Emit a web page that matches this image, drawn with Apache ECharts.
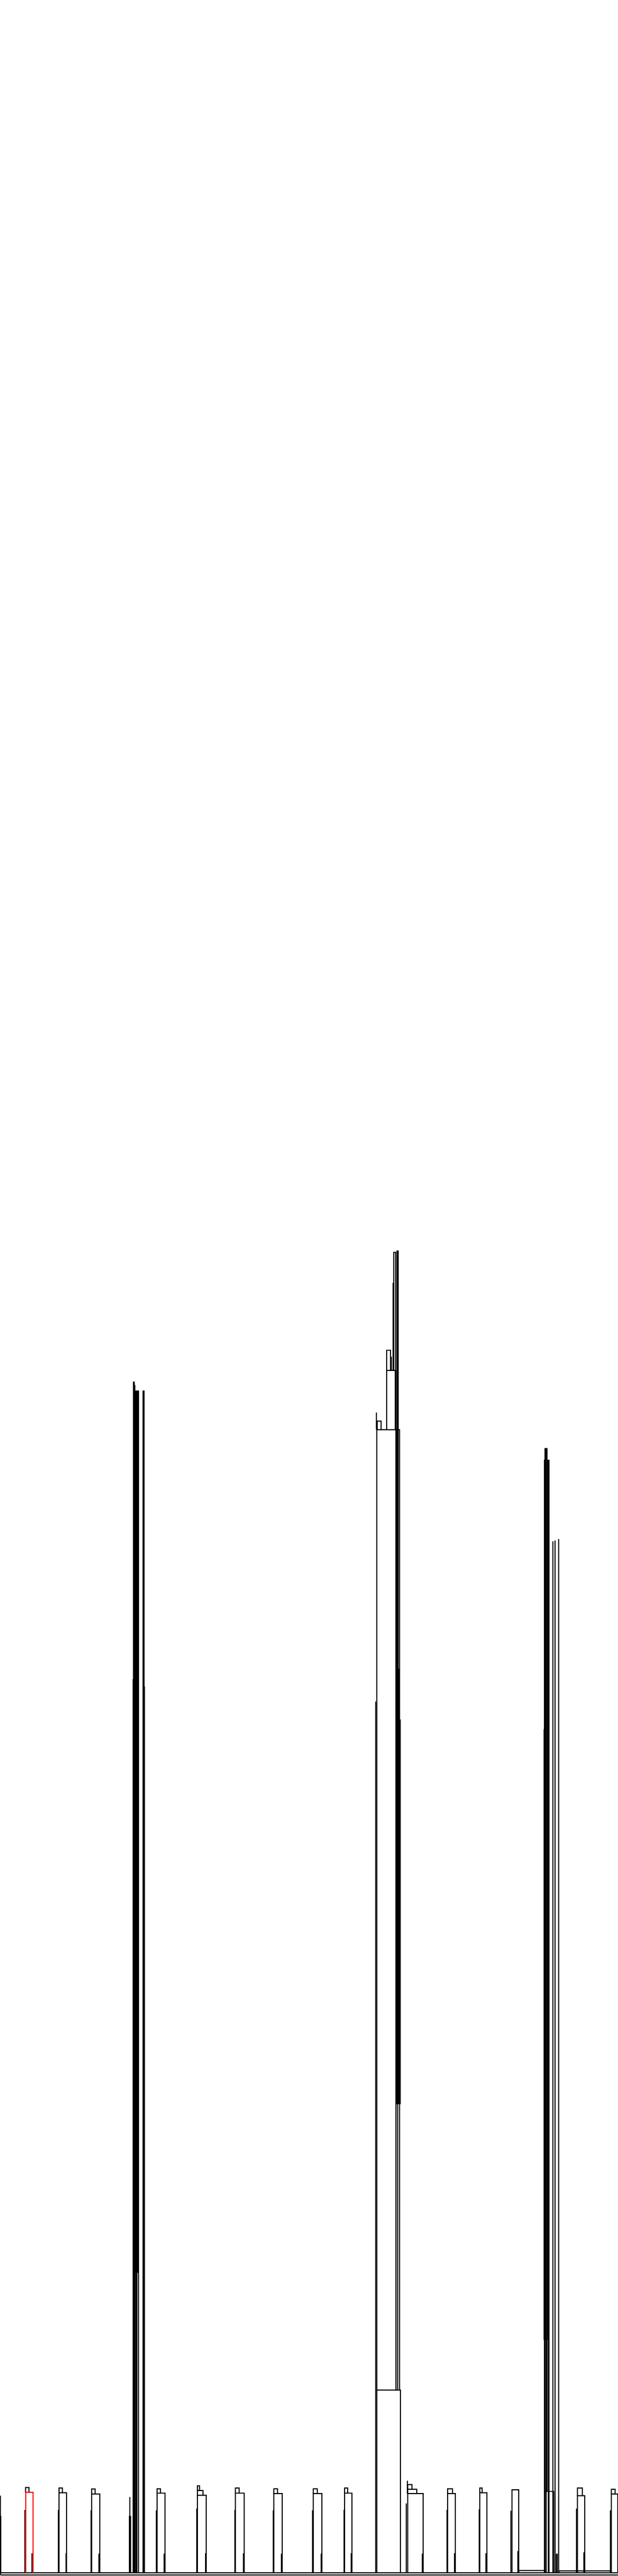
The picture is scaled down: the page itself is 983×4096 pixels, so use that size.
<!DOCTYPE html>
<html>
<head>
<meta charset="utf-8">
<script src="https://cdn.jsdelivr.net/npm/echarts@6/dist/echarts.min.js"></script>
<style>
  html, body { margin: 0; padding: 0; background: #ffffff; }
  #chart { width: 983px; height: 4096px; }
</style>
</head>
<body>
<div id="chart"></div>
<script>
// Dendrogram.
// Leaf positions on a 0..1440 horizontal scale, merge heights on a 0..6000 scale.
// U-link: [leftX, rightX, leftChildHeight, rightChildHeight, mergeHeight]
const B = 7.5; // leaf level (top of the base line)

const smallLinks = [
  [59.5, 67.5, 194, 194, 206],
  [137.5, 155, B, B, 194], [137.5, 145.5, 194, 194, 205],
  [213.5, 232.5, B, B, 191], [213.5, 221.7, 191, 191, 202.7],
  [366, 384.5, B, B, 193], [366, 374, 193, 193, 203],
  [460, 480.5, B, B, 188], [460, 473, 188, 188, 199], [460, 465, 199, 199, 210],
  [548.5, 569, B, B, 193], [548.5, 557.3, 193, 193, 205],
  [638, 657.5, B, B, 192], [638, 646.7, 192, 192, 203],
  [730, 750, B, B, 192], [730, 739.3, 192, 192, 203],
  [803, 820, B, B, 193], [803, 810, 193, 193, 205],
  [950, 986, B, B, 192], [950, 971, 192, 192, 202], [950, 960, 202, 202, 213],
  [1043, 1061, B, B, 192], [1043, 1054.3, 192, 192, 203],
  [1118, 1134.5, B, B, 194], [1118, 1123.3, 194, 194, 205],
  [1193, 1208.7, B, B, 201],
  [1345.5, 1362.5, B, B, 187], [1345.5, 1357, 187, 187, 205],
  [1424.5, 1439.5, B, B, 191], [1424.5, 1433.3, 191, 191, 202],
  [1209, 1269, B, B, 12.7],
  [1302, 1423, B, B, 12]
];

const highlightLinks = [
  [60, 77, B, B, 195]
];

const tallLinks = [
  // cluster near 300-340
  [311, 312.8, B, B, 2781],
  [316.5, 322.8, B, B, 2760],
  [333.3, 335.6, B, B, 2760],
  // cluster near 876-934
  [878, 933, B, B, 433],
  [878, 931, 433, 433, 2670],
  [879, 888, 2670, 2670, 2690],
  [901, 921, 2670, 2670, 2808],
  [901, 910, 2808, 2808, 2855],
  [917.5, 922, 2808, 2808, 3083],
  // cluster near 1268-1303
  [1270, 1290, B, B, 197],
  [1270, 1274.5, 197, 197, 2626]
];

const baseLinks = [
  [1, 1440, B, B, B],
  [1, 1440, 2.5, 2.5, 2.5]
];

// single vertical branches: [x, fromHeight, toHeight]
const stems = [
  [1, 2.5, B],
  [0.8, B, 187], [1.8, B, 140],
  [58, B, 154], [74.5, B, 53],
  [136, B, 154], [154, B, 53],
  [212.3, B, 153], [230.5, B, 52],
  [364.3, B, 153], [382.5, B, 52],
  [458.5, B, 157], [479, B, 53],
  [547.3, B, 154], [567.3, B, 53],
  [636.7, B, 153], [655.7, B, 52],
  [728.3, B, 153], [748.3, B, 52],
  [801.7, B, 154], [818.3, B, 53],
  [946.7, B, 169], [949.3, 192, 222], [984, B, 52],
  [1041.7, B, 154], [1059, B, 53],
  [1116.7, B, 155], [1132.3, B, 53],
  [1190.5, B, 152], [1206.7, B, 58],
  [1343.3, B, 157], [1360.5, B, 55],
  [1422.3, B, 153],
  // cluster near 300-340
  [302.5, B, 184], [301.5, B, 140], [304.3, B, 140],
  [314.2, B, 2774],
  [317.4, B, 2760], [318.9, B, 2760],
  [315.5, 706, 2760], [320.3, 706, 2760], [321.6, 706, 2760],
  [310.2, B, 2089],
  [336.5, B, 2072],
  // cluster near 876-934
  [875.5, B, 2037],
  [877, 2670, 2710],
  [911.8, 2808, 2840],
  [916, 2808, 3012],
  [922.5, 433, 2808],
  [926.5, 433, 3087],
  [925, 1099, 3087],
  [927.8, 1099, 3087],
  [924, 1099, 2670],
  [929.3, 1099, 2113],
  [932.5, 1099, 1995],
  // cluster near 1268-1303
  [1267.8, 550, 1972],
  [1268.6, B, 2600],
  [1271.5, 550, 2626],
  [1272.6, B, 2626],
  [1276.2, 550, 2600],
  [1277.7, B, 2600],
  [1279.2, B, 2600],
  [1288.3, B, 2410],
  [1293.3, B, 2412],
  [1301.7, B, 2415],
  [1296.5, B, 52], [1298.5, B, 52]
];

const LW = 1.7;

function uRenderer(color) {
  return function (params, api) {
    const x1 = api.value(0), x2 = api.value(1);
    const h1 = api.value(2), h2 = api.value(3), ht = api.value(4);
    const pts = [
      api.coord([x1, h1]),
      api.coord([x1, ht]),
      api.coord([x2, ht]),
      api.coord([x2, h2])
    ];
    return {
      type: 'polyline',
      shape: { points: pts },
      style: { stroke: color, fill: null, lineWidth: LW }
    };
  };
}

function stemRenderer(color) {
  return function (params, api) {
    const x = api.value(0);
    const pts = [api.coord([x, api.value(1)]), api.coord([x, api.value(2)])];
    return {
      type: 'polyline',
      shape: { points: pts },
      style: { stroke: color, fill: null, lineWidth: LW }
    };
  };
}

const chart = echarts.init(document.getElementById('chart'), null, { renderer: 'canvas' });
chart.setOption({
  animation: false,
  backgroundColor: '#ffffff',
  grid: { left: 0, right: 0, top: 0, bottom: 0 },
  xAxis: { type: 'value', min: 0, max: 1440, show: false },
  yAxis: { type: 'value', min: 0, max: 6000, show: false },
  series: [
    { type: 'custom', renderItem: uRenderer('#000000'), data: baseLinks, clip: false, silent: true },
    { type: 'custom', renderItem: stemRenderer('#000000'), data: stems, clip: false, silent: true },
    { type: 'custom', renderItem: uRenderer('#000000'), data: tallLinks, clip: false, silent: true },
    { type: 'custom', renderItem: uRenderer('#000000'), data: smallLinks, clip: false, silent: true },
    { type: 'custom', renderItem: uRenderer('#ff0000'), data: highlightLinks, clip: false, silent: true }
  ]
});
</script>
</body>
</html>
